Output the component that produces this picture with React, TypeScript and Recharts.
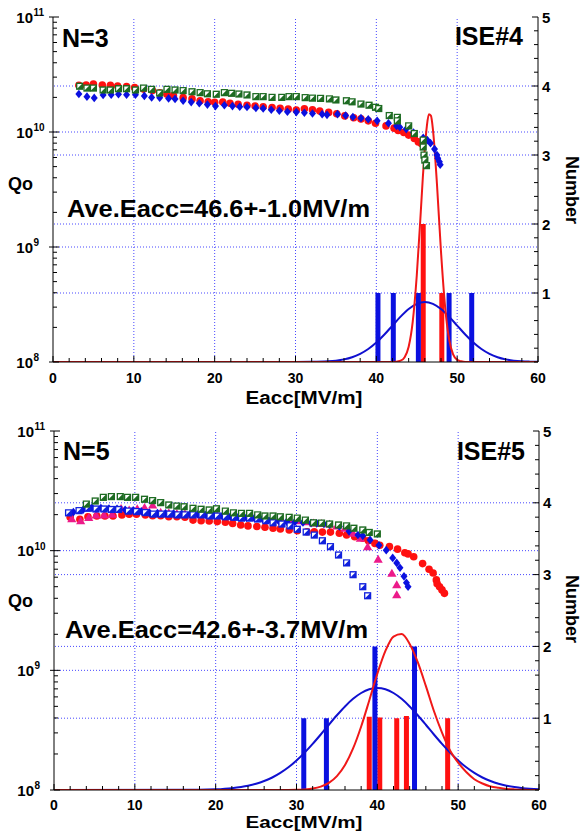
import React from 'react';
import { ComposedChart, XAxis, YAxis, Scatter, Line, ReferenceLine } from 'recharts';

type Pt = [number, number];

const FONT = '"Liberation Sans", Arial, sans-serif';

// ---------- shared axis ticks ----------
const X_TICKS = [0, 2, 4, 6, 8, 10, 12, 14, 16, 18, 20, 22, 24, 26, 28, 30, 32, 34, 36, 38, 40, 42, 44, 46, 48, 50, 52, 54, 56, 58, 60];
const X_LABELS = [0, 10, 20, 30, 40, 50, 60];
const Q_TICKS = [
  1e8, 2e8, 3e8, 4e8, 5e8, 6e8, 7e8, 8e8, 9e8,
  1e9, 2e9, 3e9, 4e9, 5e9, 6e9, 7e9, 8e9, 9e9,
  1e10, 2e10, 3e10, 4e10, 5e10, 6e10, 7e10, 8e10, 9e10, 1e11,
];
const N_TICKS = [0, 0.2, 0.4, 0.6, 0.8, 1, 1.2, 1.4, 1.6, 1.8, 2, 2.2, 2.4, 2.6, 2.8, 3, 3.2, 3.4, 3.6, 3.8, 4, 4.2, 4.4, 4.6, 4.8, 5];
const N_LABELS = [1, 2, 3, 4, 5];
const GRID_X = [10, 20, 30, 40, 50];
const GRID_Q = [1e9, 1e10];
const GRID_N = [1, 2, 3, 4];

// ---------- panel 1 : ISE#4 ----------
const p1Red: Pt[] = [[3.2,2.55e10],[4.1,2.56e10],[5.0,2.61e10],[6.1,2.56e10],[7.1,2.55e10],[8.0,2.51e10],[9.1,2.48e10],[10.1,2.43e10],[11.2,2.36e10],[12.3,2.29e10],[13.2,2.19e10],[14.1,2.13e10],[14.9,2.07e10],[16.1,1.99e10],[17.2,1.94e10],[18.2,1.87e10],[19.2,1.83e10],[20.0,1.81e10],[21.0,1.82e10],[21.9,1.78e10],[22.9,1.74e10],[24.0,1.71e10],[25.0,1.68e10],[26.0,1.66e10],[27.1,1.63e10],[28.1,1.61e10],[29.1,1.58e10],[30.1,1.55e10],[31.1,1.59e10],[32.1,1.56e10],[33.0,1.52e10],[34.1,1.48e10],[35.1,1.44e10],[36.1,1.38e10],[37.2,1.33e10],[38.1,1.30e10],[39.0,1.25e10],[39.9,1.19e10],[41.2,1.13e10],[42.2,1.08e10],[42.7,1.03e10],[43.4,9.9e9],[44.0,9.4e9],[44.7,8.8e9],[45.2,8.2e9],[45.6,7.9e9]];
const p1Blue: Pt[] = [[3.2,2.14e10],[4.2,2.03e10],[5.1,1.98e10],[6.2,2.10e10],[7.2,2.11e10],[8.1,2.13e10],[9.1,2.11e10],[10.2,2.11e10],[11.3,2.06e10],[12.2,2.00e10],[13.2,1.99e10],[14.3,1.96e10],[15.1,1.94e10],[16.1,1.87e10],[17.1,1.82e10],[18.1,1.78e10],[19.1,1.73e10],[20.1,1.68e10],[21.2,1.71e10],[22.2,1.68e10],[23.1,1.66e10],[24.0,1.65e10],[25.1,1.62e10],[26.0,1.60e10],[27.0,1.56e10],[28.0,1.53e10],[29.0,1.50e10],[30.1,1.49e10],[31.1,1.47e10],[32.1,1.45e10],[33.3,1.43e10],[33.9,1.41e10],[35.2,1.43e10],[36.2,1.39e10],[37.1,1.35e10],[38.1,1.32e10],[39.0,1.29e10],[40.1,1.25e10],[41.5,1.19e10],[42.5,1.13e10],[42.9,1.10e10],[43.7,1.06e10],[44.6,9.9e9],[45.8,8.9e9],[46.3,8.5e9],[46.7,8.0e9],[47.2,7.1e9],[47.5,6.3e9],[47.6,5.9e9],[47.8,5.5e9],[47.9,5.2e9]];
const p1Green: Pt[] = [[3.3,2.50e10],[4.2,2.41e10],[5.0,2.41e10],[6.2,2.32e10],[7.1,2.32e10],[8.1,2.38e10],[9.1,2.38e10],[10.2,2.32e10],[11.2,2.41e10],[12.2,2.35e10],[13.2,2.18e10],[14.1,2.35e10],[15.1,2.32e10],[16.1,2.29e10],[17.2,2.24e10],[18.2,2.20e10],[19.1,2.15e10],[20.2,2.13e10],[21.2,2.20e10],[22.1,2.17e10],[23.0,2.14e10],[24.0,2.10e10],[25.1,2.03e10],[26.0,2.03e10],[27.1,2.00e10],[28.3,2.00e10],[29.2,2.03e10],[30.1,2.03e10],[31.2,1.99e10],[32.1,1.97e10],[33.1,1.96e10],[34.2,1.94e10],[35.0,1.90e10],[36.3,1.87e10],[37.0,1.83e10],[38.1,1.75e10],[39.1,1.71e10],[39.9,1.64e10],[40.3,1.60e10],[41.6,1.39e10],[42.6,1.34e10],[42.6,1.25e10],[44.0,1.13e10],[44.7,9.7e9],[45.8,8.5e9],[45.8,7.4e9],[45.9,6.3e9],[46.0,5.7e9],[46.2,5.1e9]];
const p1RedBarX = [45.8, 48.1];
const p1RedBarN = [2, 1];
const p1BlueBarX = [40.2, 42.1, 45.2, 49.0, 51.8];
const p1BlueBarN = [1, 1, 1, 1, 1];
const p1RedFitX = [0, 42, 43, 43.5, 44, 44.5, 45, 45.5, 45.75, 46, 46.25, 46.5, 46.75, 47, 47.25, 47.5, 48, 48.5, 49, 49.5, 50, 50.5, 51, 60];
const p1RedFitN = [0, 0, 0.02, 0.07, 0.22, 0.58, 1.25, 2.18, 2.67, 3.10, 3.42, 3.59, 3.57, 3.37, 3.02, 2.58, 1.60, 0.81, 0.33, 0.11, 0.03, 0.01, 0, 0];
const p1BlueFitX = [0, 30, 32, 34, 35, 36, 37, 38, 39, 40, 41, 42, 43, 44, 45, 46, 47, 48, 49, 50, 51, 52, 53, 54, 55, 56, 57, 58, 59, 60];
const p1BlueFitN = [0, 0, 0.002, 0.010, 0.020, 0.038, 0.069, 0.118, 0.188, 0.282, 0.398, 0.528, 0.657, 0.768, 0.843, 0.87, 0.843, 0.768, 0.657, 0.528, 0.398, 0.282, 0.188, 0.118, 0.069, 0.038, 0.020, 0.010, 0.005, 0.002];

// ---------- panel 2 : ISE#5 ----------
const p2Red: Pt[] = [[2.0,1.90e10],[3.2,1.83e10],[4.2,1.92e10],[5.3,1.95e10],[6.3,1.95e10],[7.3,1.95e10],[8.4,1.99e10],[9.3,2.02e10],[10.2,2.02e10],[11.3,1.99e10],[12.2,1.96e10],[13.2,1.96e10],[14.2,1.92e10],[15.2,1.92e10],[16.2,1.90e10],[17.2,1.80e10],[18.2,1.78e10],[19.2,1.77e10],[20.2,1.75e10],[21.2,1.73e10],[22.1,1.69e10],[23.1,1.64e10],[24.0,1.61e10],[25.1,1.59e10],[26.1,1.57e10],[27.1,1.54e10],[28.0,1.52e10],[29.1,1.49e10],[30.1,1.47e10],[31.3,1.44e10],[32.2,1.44e10],[33.2,1.43e10],[34.2,1.43e10],[35.3,1.40e10],[36.2,1.35e10],[37.2,1.31e10],[38.2,1.27e10],[38.9,1.21e10],[39.7,1.15e10],[40.3,1.11e10],[41.5,1.08e10],[42.5,1.03e10],[43.4,9.6e9],[43.8,9.4e9],[44.5,8.9e9],[45.6,7.8e9],[46.4,7.0e9],[46.9,6.5e9],[47.3,5.7e9],[47.4,5.3e9],[47.7,5.0e9],[48.0,4.7e9],[48.3,4.4e9]];
const p2Pink: Pt[] = [[2.2,1.85e10],[3.3,1.78e10],[4.3,1.90e10],[5.2,1.99e10],[6.2,1.99e10],[7.2,2.02e10],[8.3,2.26e10],[9.3,2.20e10],[10.3,2.25e10],[11.2,2.30e10],[12.2,2.41e10],[13.2,2.10e10],[14.2,2.08e10],[15.2,2.05e10],[16.2,2.04e10],[17.2,2.03e10],[18.2,2.02e10],[19.2,2.00e10],[20.2,1.98e10],[21.2,1.96e10],[22.2,1.94e10],[23.2,1.92e10],[24.2,1.91e10],[25.2,1.89e10],[26.2,1.85e10],[27.2,1.82e10],[28.2,1.80e10],[29.1,1.79e10],[30.1,1.78e10],[31.1,1.75e10],[32.1,1.71e10],[33.1,1.69e10],[34.1,1.67e10],[35.0,1.61e10],[36.0,1.54e10],[37.0,1.40e10],[37.9,1.27e10],[38.8,1.08e10],[40.1,8.5e9],[41.8,6.5e9],[42.4,5.2e9],[42.4,4.3e9]];
const p2BlueDia: Pt[] = [[2.4,2.10e10],[3.6,2.20e10],[4.7,2.28e10],[5.8,2.27e10],[6.8,2.25e10],[7.8,2.24e10],[8.8,2.20e10],[9.8,2.17e10],[10.8,2.13e10],[11.8,2.08e10],[12.8,2.06e10],[13.8,2.05e10],[14.8,2.04e10],[15.8,2.03e10],[16.8,2.02e10],[17.8,2.01e10],[18.8,1.99e10],[19.8,1.98e10],[20.8,1.95e10],[21.8,1.93e10],[22.8,1.91e10],[23.8,1.89e10],[24.8,1.87e10],[25.8,1.84e10],[26.8,1.80e10],[27.8,1.77e10],[28.8,1.75e10],[29.8,1.74e10],[30.8,1.72e10],[31.8,1.70e10],[32.5,1.69e10],[33.4,1.67e10],[34.1,1.65e10],[35.3,1.59e10],[36.5,1.45e10],[37.6,1.35e10],[38.2,1.33e10],[39.1,1.23e10],[40.2,1.11e10],[41.1,1.01e10],[41.9,8.7e9],[42.4,7.9e9],[42.8,7.2e9],[43.3,6.1e9],[43.6,5.4e9],[43.8,5.0e9]];
const p2BlueSq: Pt[] = [[1.8,2.07e10],[3.1,2.16e10],[4.2,2.26e10],[5.2,2.23e10],[6.2,2.23e10],[7.1,2.21e10],[8.0,2.21e10],[9.2,2.14e10],[10.2,2.12e10],[11.3,2.08e10],[12.3,2.02e10],[13.3,2.02e10],[14.3,2.02e10],[15.3,1.99e10],[16.2,1.99e10],[17.2,1.99e10],[18.3,1.99e10],[19.3,1.95e10],[20.2,1.95e10],[21.2,1.92e10],[22.3,1.90e10],[23.2,1.87e10],[24.2,1.87e10],[25.2,1.84e10],[26.2,1.78e10],[27.1,1.71e10],[28.2,1.67e10],[29.2,1.61e10],[30.1,1.51e10],[31.2,1.43e10],[32.2,1.35e10],[33.2,1.21e10],[34.2,1.08e10],[35.2,9.2e9],[36.2,7.9e9],[37.0,6.3e9],[38.2,5.0e9],[38.8,4.2e9]];
const p2Green: Pt[] = [[4.0,2.45e10],[5.1,2.60e10],[6.1,2.79e10],[7.1,2.83e10],[8.2,2.83e10],[9.1,2.79e10],[10.1,2.79e10],[11.2,2.69e10],[12.2,2.62e10],[13.2,2.52e10],[14.2,2.41e10],[15.2,2.36e10],[16.1,2.33e10],[17.2,2.26e10],[18.2,2.22e10],[19.2,2.19e10],[20.1,2.24e10],[21.2,2.14e10],[22.2,2.07e10],[23.2,2.05e10],[24.2,2.05e10],[25.2,1.99e10],[26.1,1.95e10],[27.1,1.95e10],[28.0,1.92e10],[29.1,1.90e10],[30.1,1.87e10],[31.1,1.80e10],[32.1,1.71e10],[33.1,1.70e10],[34.1,1.67e10],[35.2,1.64e10],[36.2,1.61e10],[37.1,1.54e10],[38.2,1.49e10],[39.0,1.42e10],[40.0,1.38e10]];
const p2RedBarX = [39.0, 40.3, 42.4, 43.6, 48.7];
const p2RedBarN = [1.02, 1.01, 1, 1.03, 1];
const p2BlueBarX = [30.9, 33.7, 39.7, 44.6];
const p2BlueBarN = [1, 1, 2, 2];
const p2RedFitX = [0, 28, 30, 31, 32, 33, 34, 35, 36, 37, 38, 39, 40, 41, 42, 43, 44, 45, 46, 47, 48, 49, 50, 51, 52, 53, 54, 55, 56, 57, 58, 60];
const p2RedFitN = [0, 0, 0.003, 0.008, 0.020, 0.047, 0.099, 0.194, 0.349, 0.579, 0.885, 1.247, 1.619, 1.937, 2.137, 2.172, 2.035, 1.78, 1.45, 1.10, 0.80, 0.55, 0.38, 0.25, 0.15, 0.09, 0.05, 0.03, 0.015, 0.008, 0.004, 0];
const p2BlueFitX = [0, 18, 20, 22, 24, 25, 26, 27, 28, 29, 30, 31, 32, 33, 34, 35, 36, 37, 38, 39, 40, 41, 42, 43, 44, 45, 46, 47, 48, 49, 50, 51, 52, 53, 54, 55, 56, 58, 60];
const p2BlueFitN = [0, 0.004, 0.010, 0.026, 0.059, 0.087, 0.125, 0.174, 0.238, 0.316, 0.410, 0.520, 0.642, 0.773, 0.909, 1.041, 1.164, 1.270, 1.351, 1.403, 1.42, 1.403, 1.351, 1.270, 1.164, 1.041, 0.909, 0.773, 0.642, 0.520, 0.410, 0.316, 0.238, 0.174, 0.125, 0.087, 0.059, 0.026, 0.010];

// ---------- colours ----------
const RED = '#ff1010';
const BLUE = '#0a10e0';
const GREEN = '#1d6b22';
const PINK = '#ec1a8a';
const GRID = '#4848ff';

// ---------- helpers ----------
const toQ = (pts: Pt[]) => pts.map(([x, q]) => ({ x, q }));
const toCurve = (xs: number[], ns: number[]) => xs.map((x, i) => ({ x, n: ns[i] }));
const toBars = (xs: number[], ns: number[]) =>
  xs.flatMap((x, i) => [{ x, n: 0 }, { x, n: ns[i] }, { x, n: null as number | null }]);

// ---------- marker shapes ----------
const circleShape = (color: string) => (p: any) => <circle cx={p.cx} cy={p.cy} r={3.8} fill={color} />;
const diamondShape = (color: string) => (p: any) => (
  <polygon points={`${p.cx},${p.cy - 4.3} ${p.cx + 3.5},${p.cy} ${p.cx},${p.cy + 4.3} ${p.cx - 3.5},${p.cy}`} fill={color} />
);
const halfSquareShape = (color: string) => (p: any) => (
  <g>
    <rect x={p.cx - 3.6} y={p.cy - 3.6} width={7.2} height={7.2} fill={color} />
    <polygon points={`${p.cx - 2.3},${p.cy - 2.3} ${p.cx + 2.2},${p.cy - 2.3} ${p.cx - 2.3},${p.cy + 2.2}`} fill="#fff" />
  </g>
);
const triangleShape = (color: string) => (p: any) => (
  <polygon points={`${p.cx},${p.cy - 4.3} ${p.cx + 4.6},${p.cy + 3.6} ${p.cx - 4.6},${p.cy + 3.6}`} fill={color} />
);

// ---------- custom ticks ----------
const LeftTick = (props: any) => {
  const { x, y, payload } = props;
  const v = payload.value as number;
  const e = Math.round(Math.log10(v));
  const major = Math.abs(v - Math.pow(10, e)) / v < 1e-6;
  if (!major) return <line x1={x} x2={x + 4} y1={y} y2={y} stroke="#000" />;
  return (
    <g>
      <line x1={x - 4} x2={x + 6} y1={y} y2={y} stroke="#000" />
      <text x={x - 20} y={y + 5.5} textAnchor="end" fontSize={15} fontWeight="bold" fontFamily={FONT} fill="#000">10</text>
      <text x={x - 19.5} y={y - 1} textAnchor="start" fontSize={10} fontWeight="bold" fontFamily={FONT} fill="#000">{e}</text>
    </g>
  );
};

const RightTick = (props: any) => {
  const { x, y, payload } = props;
  const v = payload.value as number;
  const major = N_LABELS.some((m) => Math.abs(m - v) < 1e-6);
  return (
    <g>
      <line x1={x - (major ? 6 : 4)} x2={x} y1={y} y2={y} stroke="#000" />
      {major && (
        <text x={x + 4} y={y + 5.5} textAnchor="start" fontSize={15} fontWeight="bold" fontFamily={FONT} fill="#000">{v}</text>
      )}
    </g>
  );
};

const BottomTick = (props: any) => {
  const { x, y, payload, labelDy } = props;
  const v = payload.value as number;
  const major = X_LABELS.includes(v);
  return (
    <g>
      <line x1={x} x2={x} y1={y - (major ? 6 : 4)} y2={y} stroke="#000" />
      {major && (
        <text x={x} y={y + (labelDy ?? 21)} textAnchor="middle" fontSize={14} fontWeight="bold" fontFamily={FONT} fill="#000">{v}</text>
      )}
    </g>
  );
};

const TopTick = (props: any) => {
  const { x, y, payload } = props;
  const major = X_LABELS.includes(payload.value);
  return <line x1={x} x2={x} y1={y} y2={y + (major ? 6 : 4)} stroke="#000" />;
};

// ---------- panel ----------
type ScatterDef = { pts: Pt[]; shape: (p: any) => React.ReactElement };

type PanelProps = {
  top: number;
  plotTop: number;
  plotBottom: number;
  plotLeft: number;
  plotRight: number;
  scatters: ScatterDef[];
  redBars: { x: number; n: number | null }[];
  blueBars: { x: number; n: number | null }[];
  redFit: { x: number; n: number }[];
  blueFit: { x: number; n: number }[];
  nLabel: string;
  iseLabel: string;
  aveLabel: string;
  txt: { nY: number; nX: number; iseX: number; iseY: number; aveX: number; aveY: number; qoY: number; numY: number; eaccY: number; eaccSize: number; tickDy: number };
};

const W = 581;
const H = 416;
const XH = 30;

function Panel(p: PanelProps) {
  const t = p.txt;
  const bold = { fontWeight: 'bold' as const, fontFamily: FONT, fill: '#000' };
  return (
    <div style={{ position: 'absolute', left: 0, top: p.top, width: W, height: H }}>
      <ComposedChart
        width={W}
        height={H}
        margin={{ top: p.plotTop, right: 0, left: 0, bottom: H - p.plotBottom - XH }}
      >
        <XAxis xAxisId="b" type="number" dataKey="x" domain={[0, 60]} ticks={X_TICKS} interval={0}
          tickSize={0} tickMargin={0} tick={<BottomTick labelDy={t.tickDy} />} tickLine={false}
          axisLine={{ stroke: '#000' }} height={XH} allowDataOverflow />
        <XAxis xAxisId="t" orientation="top" type="number" dataKey="x" domain={[0, 60]} ticks={X_TICKS} interval={0}
          tickSize={0} tickMargin={0} tick={<TopTick />} tickLine={false}
          axisLine={{ stroke: '#000' }} height={0} allowDataOverflow />
        <YAxis yAxisId="q" orientation="left" type="number" scale="log" dataKey="q" domain={[1e8, 1e11]}
          ticks={Q_TICKS} interval={0} tickSize={0} tickMargin={0} tick={<LeftTick />} tickLine={false}
          axisLine={{ stroke: '#000' }} width={p.plotLeft} allowDataOverflow />
        <YAxis yAxisId="n" orientation="right" type="number" domain={[0, 5]}
          ticks={N_TICKS} interval={0} tickSize={0} tickMargin={0} tick={<RightTick />} tickLine={false}
          axisLine={{ stroke: '#000' }} width={W - p.plotRight} allowDataOverflow />

        {GRID_X.map((g) => (
          <ReferenceLine key={'gx' + g} xAxisId="b" yAxisId="n" x={g} stroke={GRID} strokeDasharray="1 2" />
        ))}
        {GRID_N.map((g) => (
          <ReferenceLine key={'gn' + g} xAxisId="b" yAxisId="n" y={g} stroke={GRID} strokeDasharray="1 2" />
        ))}
        {GRID_Q.map((g) => (
          <ReferenceLine key={'gq' + g} xAxisId="b" yAxisId="q" y={g} stroke={GRID} strokeDasharray="1 2" />
        ))}

        <Line xAxisId="b" yAxisId="n" data={p.redBars} dataKey="n" type="linear" stroke={RED} strokeWidth={5}
          dot={false} activeDot={false} connectNulls={false} isAnimationActive={false} strokeLinecap="butt" />
        <Line xAxisId="b" yAxisId="n" data={p.blueBars} dataKey="n" type="linear" stroke={BLUE} strokeWidth={5}
          dot={false} activeDot={false} connectNulls={false} isAnimationActive={false} strokeLinecap="butt" />
        <Line xAxisId="b" yAxisId="n" data={p.blueFit} dataKey="n" type="monotone" stroke="#1010d0" strokeWidth={2}
          dot={false} activeDot={false} isAnimationActive={false} />
        <Line xAxisId="b" yAxisId="n" data={p.redFit} dataKey="n" type="monotone" stroke="#f01818" strokeWidth={2}
          dot={false} activeDot={false} isAnimationActive={false} />

        {p.scatters.map((s, i) => (
          <Scatter key={'s' + i} xAxisId="b" yAxisId="q" data={toQ(s.pts)} shape={s.shape} isAnimationActive={false} />
        ))}
      </ComposedChart>

      <svg width={W} height={H} style={{ position: 'absolute', left: 0, top: 0, pointerEvents: 'none' }}>
        <text x={t.nX} y={t.nY} fontSize={25} {...bold}>{p.nLabel}</text>
        <text x={t.iseX} y={t.iseY} fontSize={25} textAnchor="end" {...bold}>{p.iseLabel}</text>
        <text x={t.aveX} y={t.aveY} fontSize={24} textLength={303} lengthAdjust="spacingAndGlyphs" {...bold}>{p.aveLabel}</text>
        <text x={8} y={t.qoY} fontSize={19} textLength={25} lengthAdjust="spacingAndGlyphs" {...bold}>Qo</text>
        <text x={566} y={t.numY} fontSize={18} textAnchor="middle" transform={`rotate(90, 566, ${t.numY})`} {...bold}>Number</text>
        <text x={304} y={t.eaccY} fontSize={t.eaccSize} textAnchor="middle" textLength={117} lengthAdjust="spacingAndGlyphs" {...bold}>Eacc[MV/m]</text>
      </svg>
    </div>
  );
}

export default function App() {
  return (
    <div style={{ position: 'absolute', left: 0, top: 0, width: W, height: 832, background: '#fff' }}>
      <Panel
        top={0}
        plotTop={17}
        plotBottom={362}
        plotLeft={53}
        plotRight={538}
        scatters={[
          { pts: p1Red, shape: circleShape(RED) },
          { pts: p1Blue, shape: diamondShape(BLUE) },
          { pts: p1Green, shape: halfSquareShape(GREEN) },
        ]}
        redBars={toBars(p1RedBarX, p1RedBarN)}
        blueBars={toBars(p1BlueBarX, p1BlueBarN)}
        redFit={toCurve(p1RedFitX, p1RedFitN)}
        blueFit={toCurve(p1BlueFitX, p1BlueFitN)}
        nLabel="N=3"
        iseLabel="ISE#4"
        aveLabel="Ave.Eacc=46.6+-1.0MV/m"
        txt={{ nX: 62, nY: 47, iseX: 523, iseY: 45, aveX: 67, aveY: 217, qoY: 190, numY: 190, eaccY: 404, eaccSize: 18, tickDy: 21 }}
      />
      <Panel
        top={416}
        plotTop={15}
        plotBottom={374}
        plotLeft={54}
        plotRight={539}
        scatters={[
          { pts: p2Red, shape: circleShape(RED) },
          { pts: p2Pink, shape: triangleShape(PINK) },
          { pts: p2BlueDia, shape: diamondShape(BLUE) },
          { pts: p2BlueSq, shape: halfSquareShape('#1020dd') },
          { pts: p2Green, shape: halfSquareShape(GREEN) },
        ]}
        redBars={toBars(p2RedBarX, p2RedBarN)}
        blueBars={toBars(p2BlueBarX, p2BlueBarN)}
        redFit={toCurve(p2RedFitX, p2RedFitN)}
        blueFit={toCurve(p2BlueFitX, p2BlueFitN)}
        nLabel="N=5"
        iseLabel="ISE#5"
        aveLabel="Ave.Eacc=42.6+-3.7MV/m"
        txt={{ nX: 63, nY: 44, iseX: 525, iseY: 44, aveX: 65, aveY: 222, qoY: 191, numY: 193, eaccY: 412, eaccSize: 16.5, tickDy: 20 }}
      />
    </div>
  );
}
